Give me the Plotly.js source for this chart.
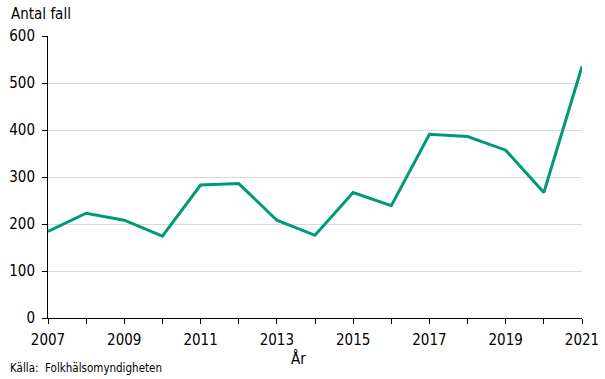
<!DOCTYPE html>
<html>
<head>
<meta charset="utf-8">
<script src="https://cdn.plot.ly/plotly-3.0.1.min.js"></script>
<style>html,body{margin:0;padding:0;background:#fff;}#chart{width:605px;height:379px;}</style>
</head>
<body>
<div id="chart"></div>
<script>
const years = [2007,2008,2009,2010,2011,2012,2013,2014,2015,2016,2017,2018,2019,2020,2021];
const cases = [184,223,208,174,283,286,208,176,267,239,391,386,357,267,535];
const xTickVals = [2007,2008,2009,2010,2011,2012,2013,2014,2015,2016,2017,2018,2019,2020,2021];
const xTickText = ["2007","","2009","","2011","","2013","","2015","","2017","","2019","","2021"];
const yTickVals = [0,100,200,300,400,500,600];

const font = "DejaVu Sans Condensed, DejaVu Sans, sans-serif";

Plotly.newPlot('chart', [{
  x: years, y: cases, type: 'scatter', mode: 'lines',
  line: {color: '#00997a', width: 3},
  hoverinfo: 'skip'
}], {
  width: 605, height: 379,
  margin: {l: 48, r: 23, t: 36, b: 61},
  paper_bgcolor: '#fff', plot_bgcolor: '#fff',
  showlegend: false,
  font: {family: font, size: 15, color: '#000'},
  xaxis: {
    range: [2007, 2021], tickvals: xTickVals, ticktext: xTickText,
    ticks: 'outside', ticklen: 5, tickcolor: '#000', tickwidth: 1,
    ticklabelstandoff: 3,
    showline: true, linecolor: '#000', linewidth: 1,
    showgrid: false, zeroline: false,
    tickfont: {family: font, size: 15, color: '#000'}
  },
  yaxis: {
    range: [0, 600], tickvals: yTickVals,
    ticks: 'outside', ticklen: 5, tickcolor: '#000', tickwidth: 1,
    ticklabelstandoff: 4,
    showline: true, linecolor: '#000', linewidth: 1,
    showgrid: true, gridcolor: '#d9d9d9', gridwidth: 1,
    zeroline: false,
    tickfont: {family: font, size: 15, color: '#000'}
  },
  annotations: [
    {text: 'Antal fall', xref: 'paper', yref: 'paper', x: -48/534, y: 1 + 22/282, xanchor: 'left', yanchor: 'middle', showarrow: false, xshift: 9, font: {family: font, size: 15, color: '#000'}},
    {text: 'År', xref: 'paper', yref: 'paper', x: 250/534, y: -40/282, xanchor: 'center', yanchor: 'middle', showarrow: false, font: {family: font, size: 15, color: '#000'}},
    {text: 'Källa:  Folkhälsomyndigheten', xref: 'paper', yref: 'paper', x: -48/534, y: -50/282, xanchor: 'left', yanchor: 'middle', showarrow: false, xshift: 8, font: {family: font, size: 11.5, color: '#000'}}
  ]
}, {displayModeBar: false, staticPlot: true});
</script>
</body>
</html>
